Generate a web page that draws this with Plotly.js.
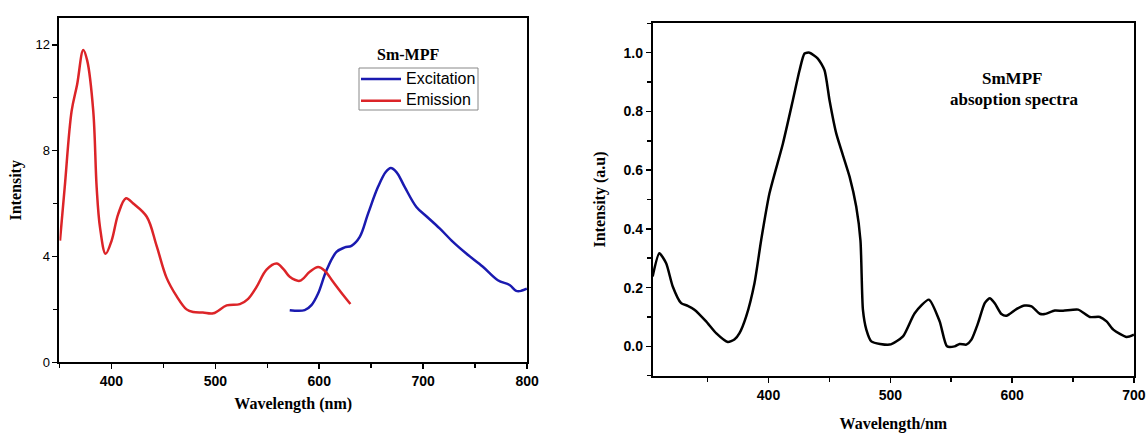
<!DOCTYPE html>
<html><head><meta charset="utf-8">
<script src="https://cdn.plot.ly/plotly-3.0.1.min.js"></script>
<style>html,body{margin:0;padding:0;background:#fff}#c{width:1146px;height:433px}</style>
</head><body><div id="c"></div>
<script>
// Left chart: Sm-MPF emission (red)
const emissionX = [350.5,355,361.7,367,372.9,376.7,382.5,385.8,389,394.4,400.2,406.5,414,421,434,443.5,453,462.7,472.3,478.7,488,498,510.9,523.6,531.6,539.7,549.3,559,566,571.6,581.3,590.9,598.9,605.3,613.3,623,630];
const emissionY = [4.6,6.6,9.5,10.5,11.8,11.4,9.5,6.6,5.1,4.1,4.6,5.6,6.2,6.0,5.5,4.4,3.2,2.5,2.0,1.9,1.88,1.85,2.15,2.2,2.4,2.85,3.5,3.73,3.5,3.23,3.08,3.42,3.6,3.46,3.04,2.54,2.2];
// Left chart: Sm-MPF excitation (blue)
const excitationX = [571.6,586,592.5,598.9,607,616.6,624.5,631,639,647,656.6,664,668.8,674.3,682.2,693.5,703.1,715.9,728.7,741.5,757.5,771.9,783.2,789.6,794.4,799.8];
const excitationY = [1.97,1.97,2.16,2.6,3.48,4.17,4.34,4.4,4.74,5.62,6.63,7.19,7.34,7.19,6.63,5.87,5.52,5.06,4.55,4.11,3.61,3.1,2.92,2.7,2.7,2.78];
// Right chart: SmMPF absorption spectra (black)
const absX = [304.9,310.4,316,321.4,328.3,333.7,339.2,348.8,357,366.6,372,376.2,381.7,388.5,394,400.8,411.8,420,425.5,429.6,433.7,440.5,446,450.1,455.6,466.6,472,475.5,477.5,480.3,484.4,499.4,510.4,520,531.7,540.5,546.5,552.8,556.9,562.4,566.6,572,577.5,581.6,585.7,591.2,595.3,603.5,610.4,615.9,622.7,626.8,635,641.8,654.2,663.8,672,677.5,683,694,700];
const absY = [0.238,0.317,0.283,0.204,0.147,0.138,0.125,0.085,0.045,0.015,0.023,0.045,0.102,0.215,0.362,0.521,0.69,0.838,0.94,0.997,1.0,0.98,0.94,0.838,0.725,0.577,0.476,0.36,0.125,0.057,0.017,0.006,0.034,0.113,0.159,0.085,0.0,0.0,0.008,0.006,0.023,0.079,0.147,0.164,0.147,0.11,0.104,0.127,0.139,0.136,0.111,0.11,0.122,0.121,0.125,0.1,0.1,0.085,0.057,0.032,0.04];

const leftXTicks = [400,500,600,700,800];
const leftYTicks = [0,4,8,12];
const rightXTicks = [400,500,600,700];
const rightYTicks = [0.0,0.2,0.4,0.6,0.8,1.0];
const legendNames = ['Excitation', 'Emission'];
const legendColors = ['#1a1ab0', '#dc2428'];

const serif = "Liberation Serif, Times New Roman, serif";
const sans = "Liberation Sans, Arial, sans-serif";

const traces = [
  {x: excitationX, y: excitationY, name: legendNames[0], type: 'scatter', mode: 'lines', showlegend: false,
   line: {color: legendColors[0], width: 2.5, shape: 'spline'}, xaxis: 'x', yaxis: 'y'},
  {x: emissionX, y: emissionY, name: legendNames[1], type: 'scatter', mode: 'lines', showlegend: false,
   line: {color: legendColors[1], width: 2.5, shape: 'spline'}, xaxis: 'x', yaxis: 'y'},
  {x: absX, y: absY, name: 'absorption', type: 'scatter', mode: 'lines', showlegend: false,
   line: {color: '#000', width: 2.5, shape: 'spline', smoothing: 0.6}, xaxis: 'x2', yaxis: 'y2'}
];

const axBase = {showgrid: false, zeroline: false, showline: true, linecolor: '#000', linewidth: 2,
  mirror: true, ticks: 'outside', ticklen: 5, tickwidth: 1.5, tickcolor: '#000', automargin: false};

const W = 1146, H = 433;
const px = v => v / W, py = v => 1 - v / H;

// manual legend box (paper coords), entries drawn from legendNames/legendColors
const shapes = [
  {type: 'rect', xref: 'paper', yref: 'paper', x0: px(359), x1: px(478), y0: py(110), y1: py(68),
   line: {color: '#888', width: 1}, fillcolor: '#fff', layer: 'above'}
];
const annotations = [
  {xref: 'paper', yref: 'paper', x: px(408), y: py(55), xanchor: 'center', yanchor: 'middle', text: 'Sm-MPF', showarrow: false,
   font: {family: serif, size: 16, color: '#000', weight: 'bold'}},
  {xref: 'paper', yref: 'paper', x: px(1012), y: py(78), xanchor: 'center', yanchor: 'middle', text: 'SmMPF', showarrow: false,
   font: {family: serif, size: 17, color: '#000', weight: 'bold'}},
  {xref: 'paper', yref: 'paper', x: px(1014), y: py(100), xanchor: 'center', yanchor: 'middle', text: 'absoption spectra', showarrow: false,
   font: {family: serif, size: 17, color: '#000', weight: 'bold'}}
];
legendNames.forEach((n, i) => {
  const yc = 79 + i * 21.7;
  shapes.push({type: 'line', xref: 'paper', yref: 'paper', x0: px(361), x1: px(401), y0: py(yc), y1: py(yc),
    line: {color: legendColors[i], width: 2.5}, layer: 'above'});
  annotations.push({xref: 'paper', yref: 'paper', x: px(404), y: py(yc - 1), xanchor: 'left', yanchor: 'middle',
    text: n, showarrow: false, font: {family: sans, size: 16, color: '#000'}});
});

const layout = {
  width: W, height: H,
  margin: {l: 0, r: 0, t: 0, b: 0},
  paper_bgcolor: '#fff', plot_bgcolor: '#fff',
  showlegend: false,
  xaxis: Object.assign({}, axBase, {domain: [0.0519, 0.4599], range: [350, 800],
    tickvals: leftXTicks, ticktext: leftXTicks.map(String),
    tickfont: {family: sans, size: 14, color: '#000', weight: 'bold'},
    minor: {dtick: 50, tick0: 350, ticks: 'outside', ticklen: 4, tickwidth: 1.5, tickcolor: '#000'},
    title: {text: 'Wavelength (nm)', font: {family: serif, size: 16, color: '#000', weight: 'bold'}, standoff: 10}}),
  yaxis: Object.assign({}, axBase, {domain: [0.1633, 0.9577], range: [0, 13],
    tickvals: leftYTicks, ticktext: leftYTicks.map(String),
    tickfont: {family: sans, size: 13, color: '#000'},
    minor: {dtick: 2, tick0: 0, ticks: 'outside', ticklen: 4, tickwidth: 1.5, tickcolor: '#000'},
    title: {text: 'Intensity', font: {family: serif, size: 16, color: '#000', weight: 'bold'}, standoff: 10}}),
  xaxis2: Object.assign({}, axBase, {domain: [0.5696, 0.9895], range: [305, 700], anchor: 'y2',
    tickvals: rightXTicks, ticktext: rightXTicks.map(String),
    tickfont: {family: sans, size: 14, color: '#000', weight: 'bold'},
    minor: {dtick: 50, tick0: 350, ticks: 'outside', ticklen: 4, tickwidth: 1.5, tickcolor: '#000'},
    title: {text: 'Wavelength/nm', font: {family: serif, size: 16, color: '#000', weight: 'bold'}, standoff: 18}}),
  yaxis2: Object.assign({}, axBase, {domain: [0.1323, 0.9462], range: [-0.1, 1.1], anchor: 'x2',
    tickvals: rightYTicks, ticktext: rightYTicks.map(v => v.toFixed(1)),
    tickfont: {family: sans, size: 14, color: '#000', weight: 'bold'},
    minor: {dtick: 0.1, tick0: -0.1, ticks: 'outside', ticklen: 4, tickwidth: 1.5, tickcolor: '#000'},
    title: {text: 'Intensity (a.u)', font: {family: serif, size: 16, color: '#000', weight: 'bold'}, standoff: 14}}),
  shapes: shapes,
  annotations: annotations
};

Plotly.newPlot('c', traces, layout, {displayModeBar: false, staticPlot: true});
</script></body></html>
